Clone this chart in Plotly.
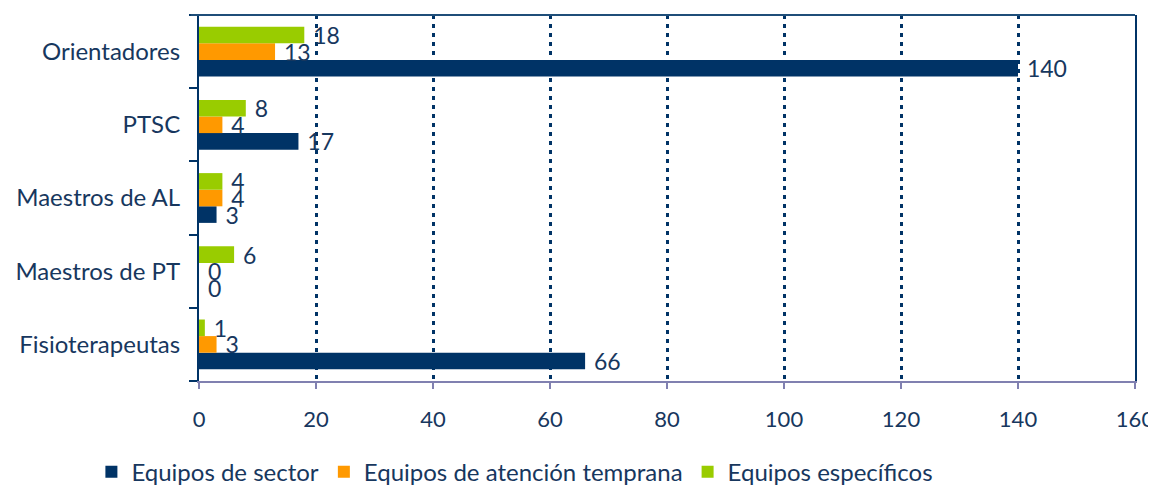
import plotly.graph_objects as go

categories = ["Fisioterapeutas", "Maestros de PT", "Maestros de AL", "PTSC", "Orientadores"]
series_names = ["Equipos de sector", "Equipos de atención temprana", "Equipos específicos"]
sector = [66, 0, 3, 17, 140]
temprana = [3, 0, 4, 4, 13]
especificos = [1, 6, 4, 8, 18]
colors = ["#003366", "#FF9900", "#99CC00"]
x_ticks = [0, 20, 40, 60, 80, 100, 120, 140, 160]

TEXT = "#17375E"
FONT = "Lato"

fig = go.Figure()
for name, vals, col in zip(series_names, [sector, temprana, especificos], colors):
    fig.add_trace(go.Bar(
        y=categories, x=vals, name=name, orientation="h",
        marker=dict(color=col, line=dict(width=0)),
        text=[" " + str(v) for v in vals], textposition="outside",
        textfont=dict(family=FONT, size=23, color=TEXT),
        constraintext="none", cliponaxis=False,
    ))

fig.update_layout(
    barmode="group", bargap=0.32, bargroupgap=0,
    width=1148, height=477,
    margin=dict(l=191, r=21, t=7, b=104, autoexpand=False),
    paper_bgcolor="white", plot_bgcolor="white",
    font=dict(family=FONT, color=TEXT),
    showlegend=True,
    legend=dict(orientation="h", x=0.3375, xanchor="center", xref="paper",
                y=-0.249, yanchor="middle", yref="paper",
                font=dict(family=FONT, size=24, color=TEXT),
                itemwidth=30, traceorder="normal"),
    xaxis=dict(range=[0, 160], tickvals=x_ticks, ticktext=[str(t) for t in x_ticks],
               showgrid=True, gridcolor="#003366", griddash="4px,5px", gridwidth=2.5,
               showline=True, linecolor="#8080B0", linewidth=2,
               ticks="outside", ticklen=6, tickcolor="#8080B0", tickwidth=2,
               tickfont=dict(family=FONT, size=22, color=TEXT), ticklabeloverflow="allow",
               ticklabelstandoff=12, zeroline=False, fixedrange=True, automargin=False),
    yaxis=dict(showline=True, linecolor="#003366", linewidth=2, mirror=True,
               ticks="outside", tickson="boundaries", ticklen=8, tickcolor="#003366", tickwidth=2,
               tickfont=dict(family=FONT, size=24, color=TEXT), ticklabelstandoff=12,
               showgrid=False, fixedrange=True, automargin=False),
    shapes=[dict(type="line", xref="paper", yref="paper", x0=-0.009, x1=1, y0=1, y1=1,
                 line=dict(color="#1F4E79", width=2))],
)

fig.write_html("out.html")
